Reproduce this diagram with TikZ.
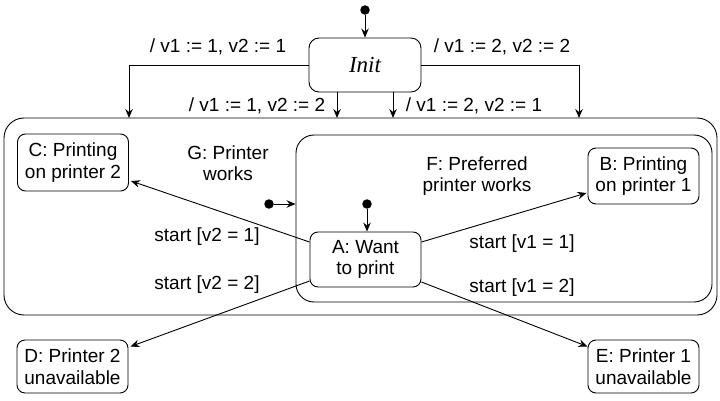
\documentclass[tikz,border=0pt]{standalone}
\usepackage{fontspec}
\setmainfont{Liberation Sans}
\newfontfamily\initfont{Liberation Serif}
\usetikzlibrary{arrows.meta}
\begin{document}
\begin{tikzpicture}[x=1pt,y=-1pt,
  every node/.style={font=\fontsize{19}{21.5}\selectfont},
  state/.style={draw,rounded corners=8pt,line width=0.9pt,inner sep=0pt,align=center,minimum width=111pt},
  region/.style={draw,line width=0.9pt,inner sep=0pt},
  lbl/.style={align=center,inner sep=0pt},
  arr/.style={line width=0.9pt,-{Stealth[length=9pt,width=7.5pt,inset=3pt]}},
  dot/.style={circle,fill=black,inner sep=0pt,minimum size=9.5pt}]
\useasboundingbox (0,0) rectangle (720,401);
% regions
\node[region,rounded corners=20pt,minimum width=713pt,minimum height=197pt] (G) at (360.5,216.5) {};
\node[region,rounded corners=18pt,minimum width=416pt,minimum height=167pt] (F) at (504,218.5) {};
% states
\node[state,minimum width=112pt,minimum height=54pt,rounded corners=10pt,font=\initfont\itshape\fontsize{23}{26}\selectfont] (Init) at (365,65) {Init};
\node[state,minimum height=57pt] (C) at (73,162.5) {C: Printing\\on printer 2};
\node[state,minimum height=56pt] (B) at (643.5,176) {B: Printing\\on printer 1};
\node[state,minimum height=55pt] (A) at (365.5,259.5) {A: Want\\to print};
\node[state,minimum height=53pt] (D) at (72.5,366.5) {D: Printer 2\\unavailable};
\node[state,minimum height=53pt] (E) at (643.5,366.5) {E: Printer 1\\unavailable};
% initial dots
\node[dot] (i0) at (365,10) {};
\node[dot] (i1) at (269,204) {};
\node[dot] (i2) at (367,204) {};
\draw[arr] (i0) -- (Init.north);
\draw[arr] (i1) -- (F.west |- i1);
\draw[arr] (i2) -- (A.north -| i2);
% init transitions
\coordinate (g1) at (129,118);
\coordinate (g2) at (337,118);
\coordinate (g3) at (393,118);
\coordinate (g4) at (579,118);
\draw[arr] (Init.west) -| (g1);
\draw[arr] (Init.east) -| (g4);
\draw[arr] (Init.south -| g2) -- (g2);
\draw[arr] (Init.south -| g3) -- (g3);
\node[lbl] (l1) at (218,47) {/ v1 := 1, v2 := 1};
\node[lbl] (l2) at (502,47) {/ v1 := 2, v2 := 2};
\node[lbl] (l3) at (257,106) {/ v1 := 1, v2 := 2};
\node[lbl] (l4) at (474,106) {/ v1 := 2, v2 := 1};
% region labels
\node[lbl] (lg) at (228,163) {G: Printer\\works};
\node[lbl] (lf) at (477,176) {F: Preferred\\printer works};
% A transitions
\draw[arr] ([yshift=17.5pt]A.west) -- ([xshift=2pt,yshift=-18.5pt]C.east);
\draw[arr] ([yshift=17.5pt]A.east) -- ([xshift=-1pt,yshift=-17pt]B.west);
\draw[arr] ([yshift=-21.5pt]A.west) -- ([xshift=2pt,yshift=-7pt]D.north east);
\draw[arr] ([yshift=-22.5pt]A.east) -- ([yshift=-7pt]E.north west);
\node[lbl] (s1) at (207,237) {start [v2 = 1]};
\node[lbl] (s2) at (207,285) {start [v2 = 2]};
\node[lbl] (s3) at (522,244) {start [v1 = 1]};
\node[lbl] (s4) at (522,288) {start [v1 = 2]};
\end{tikzpicture}
\end{document}
